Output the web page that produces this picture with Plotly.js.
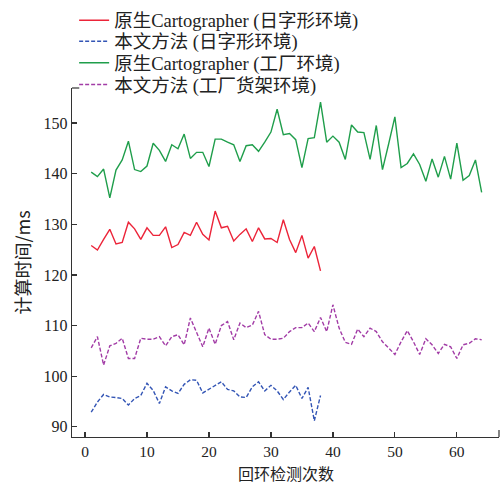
<!DOCTYPE html>
<html>
<head>
<meta charset="utf-8">
<script src="https://cdn.plot.ly/plotly-3.0.1.min.js"></script>
<style>html,body{margin:0;padding:0;background:#fff;}#chart{width:500px;height:484px;}</style>
</head>
<body>
<div id="chart"></div>
<script>
const seriesNames = [
  '原生Cartographer (日字形环境)',
  '本文方法 (日字形环境)',
  '原生Cartographer (工厂环境)',
  '本文方法 (工厂货架环境)'
];
const xTitle = '回环检测次数';
const yTitle = '计算时间/ms';
const iterShort = [1,2,3,4,5,6,7,8,9,10,11,12,13,14,15,16,17,18,19,20,21,22,23,24,25,26,27,28,29,30,31,32,33,34,35,36,37,38];
const iterLong = [1,2,3,4,5,6,7,8,9,10,11,12,13,14,15,16,17,18,19,20,21,22,23,24,25,26,27,28,29,30,31,32,33,34,35,36,37,38,39,40,41,42,43,44,45,46,47,48,49,50,51,52,53,54,55,56,57,58,59,60,61,62,63,64];

const redOrig = [125.8,124.9,127.0,129.0,126.1,126.4,130.4,129.1,127.0,129.3,
  127.8,127.8,129.5,125.4,126.0,128.4,127.8,130.4,128.0,126.9,
  132.6,129.3,129.6,126.7,128.0,129.1,126.6,129.3,127.1,127.2,
  126.4,130.9,127.0,124.4,127.8,123.3,125.6,120.8];
const blueOurs = [92.9,94.9,96.4,95.9,95.8,95.6,94.3,95.6,96.2,98.6,
  97.2,94.6,97.9,97.1,96.6,98.4,99.3,99.2,96.7,97.4,
  98.2,98.9,97.4,97.1,95.9,95.8,97.9,98.9,97.1,98.2,
  97.1,95.4,96.9,98.2,95.6,97.8,91.2,96.2];
const greenOrig = [140.3,139.4,140.9,135.2,140.7,142.7,146.4,140.8,140.4,141.5,
  146.0,144.6,142.4,145.7,144.9,147.8,143.0,144.2,144.2,141.4,
  146.8,146.8,146.2,145.7,142.4,145.5,145.7,144.4,146.2,148.2,
  152.7,147.7,147.9,146.7,141.2,146.9,147.1,154.1,146.2,147.4,
  146.2,142.8,149.6,148.2,148.1,142.8,149.5,140.8,145.9,151.2,
  141.2,142.0,143.9,141.8,138.5,142.9,139.3,143.4,138.9,146.0,
  138.7,139.6,142.7,136.3];
const purpleOurs = [105.6,107.8,102.2,106.0,106.5,107.5,103.5,103.5,107.5,107.3,
  107.3,107.8,106.0,107.8,108.2,106.2,111.5,108.8,105.8,109.5,
  106.3,110.0,110.8,107.2,110.5,109.6,110.1,112.8,108.2,107.3,
  107.3,107.5,108.8,109.6,109.6,110.5,108.8,111.6,108.8,114.1,
  109.5,106.7,106.3,109.3,107.8,109.5,108.8,106.8,105.5,104.3,
  106.8,109.0,106.8,104.3,107.4,106.2,104.5,106.3,105.8,103.5,
  106.2,106.5,107.4,107.2];

const xTicks = [0,10,20,30,40,50,60];
const yTicks = [90,100,110,120,130,140,150];

const FONT = 'Liberation Serif, "Times New Roman", "Noto Sans CJK SC", serif';
const CJK = '"Noto Sans CJK SC", sans-serif';

const traces = [
  {x: iterShort, y: redOrig, name: seriesNames[0], legend: 'legend', mode: 'lines', line: {color: '#ec2439', width: 1.4}},
  {x: iterShort, y: blueOurs, name: seriesNames[1], legend: 'legend2', mode: 'lines', line: {color: '#3355b5', width: 1.4, dash: '4px,2px'}},
  {x: iterLong, y: greenOrig, name: seriesNames[2], legend: 'legend3', mode: 'lines', line: {color: '#1f9e4b', width: 1.4}},
  {x: iterLong, y: purpleOurs, name: seriesNames[3], legend: 'legend4', mode: 'lines', line: {color: '#a23ca6', width: 1.4, dash: '4px,2px'}}
];

function leg(y) {
  return {
    x: 0.005, xanchor: 'left', y: y, yanchor: 'middle',
    bgcolor: 'rgba(0,0,0,0)', borderwidth: 0,
    font: {family: FONT, size: 18.5, color: '#222'},
    itemwidth: 30
  };
}

const layout = {
  width: 500, height: 484,
  margin: {l: 72, r: 1, t: 88, b: 47},
  paper_bgcolor: '#fff', plot_bgcolor: '#fff',
  font: {family: FONT, size: 16, color: '#222'},
  showlegend: true,
  legend: leg(1.1928),
  legend2: leg(1.1327),
  legend3: leg(1.0708),
  legend4: leg(1.0086),
  xaxis: {
    range: [-2.1, 66.8], tickvals: xTicks, ticktext: xTicks.map(String),
    ticks: 'inside', ticklen: 5, tickwidth: 1.2, tickcolor: '#333',
    showline: true, linecolor: '#333', linewidth: 1.4, showgrid: false, zeroline: false,
    tickfont: {family: FONT, size: 15.5, color: '#222'}
  },
  yaxis: {
    range: [88, 156.9], tickvals: yTicks, ticktext: yTicks.map(String),
    ticks: 'inside', ticklen: 5, tickwidth: 1.2, tickcolor: '#333',
    showline: true, linecolor: '#333', linewidth: 1.4, showgrid: false, zeroline: false,
    tickfont: {family: FONT, size: 16, color: '#222'},
    title: {text: yTitle, font: {family: CJK, size: 18, color: '#222'}, standoff: 8}
  },
  annotations: [
    {text: xTitle, xref: 'paper', yref: 'paper', x: 0.5, y: -0.1025, xanchor: 'center', yanchor: 'middle',
     showarrow: false, borderpad: 0, font: {family: CJK, size: 16, color: '#222'}}
  ],
  shapes: [
    {type: 'line', xref: 'paper', yref: 'paper', x0: 0, x1: 0.017, y0: 1, y1: 1, line: {color: '#333', width: 1.2}},
    {type: 'line', xref: 'paper', yref: 'paper', x0: 1, x1: 1, y0: 0, y1: 0.02, line: {color: '#333', width: 1.2}}
  ]
};

Plotly.newPlot('chart', traces, layout, {displayModeBar: false, staticPlot: true});
</script>
</body>
</html>
